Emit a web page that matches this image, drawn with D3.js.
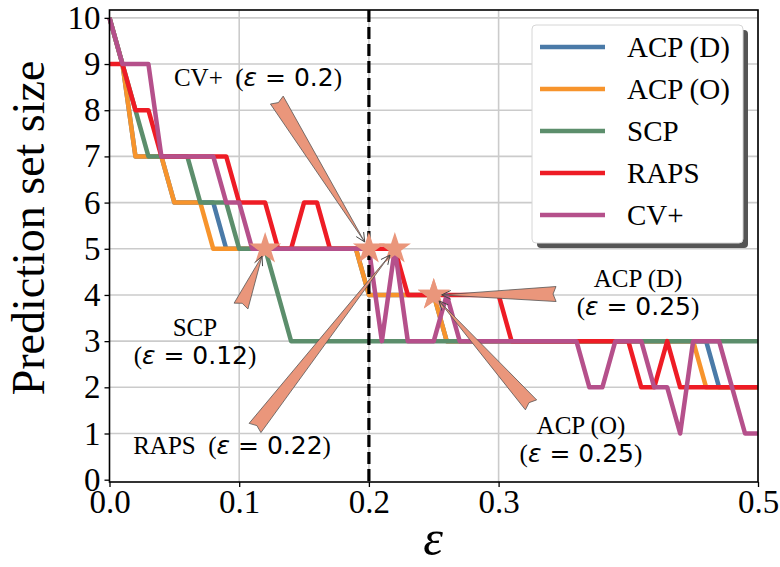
<!DOCTYPE html>
<html>
<head>
<meta charset="utf-8">
<script src="https://cdn.jsdelivr.net/npm/d3@7"></script>
<style>
body { margin: 0; background: #fff; }
text { font-family: "Liberation Serif", "Times New Roman", serif; fill: #000; }
</style>
</head>
<body>
<script>
var w = 780;
var h = 567;

// data (eps step 0.01)
var eps = [0.00, 0.01, 0.02, 0.03, 0.04, 0.05, 0.06, 0.07, 0.08, 0.09,
    0.10, 0.11, 0.12, 0.13, 0.14, 0.15, 0.16, 0.17, 0.18, 0.19,
    0.20, 0.21, 0.22, 0.23, 0.24, 0.25, 0.26, 0.27, 0.28, 0.29,
    0.30, 0.31, 0.32, 0.33, 0.34, 0.35, 0.36, 0.37, 0.38, 0.39,
    0.40, 0.41, 0.42, 0.43, 0.44, 0.45, 0.46, 0.47, 0.48, 0.49, 0.50];
var acpD = [10, 9, 7, 7, 7, 6, 6, 6, 6, 5,
    5, 5, 5, 5, 5, 5, 5, 5, 5, 5,
    4, 4, 4, 4, 4, 4, 3, 3, 3, 3,
    3, 3, 3, 3, 3, 3, 3, 3, 3, 3,
    3, 3, 3, 3, 3, 3, 3, 2, 2, 2, 2];
var acpO = [10, 9, 7, 7, 7, 6, 6, 6, 5, 5,
    5, 5, 5, 5, 5, 5, 5, 5, 5, 5,
    4, 4, 4, 4, 4, 4, 3, 3, 3, 3,
    3, 3, 3, 3, 3, 3, 3, 3, 3, 3,
    3, 3, 3, 3, 3, 3, 2, 2, 2, 2, 2];
var scp = [10, 9, 8, 7, 7, 7, 7, 6, 6, 6,
    5, 5, 5, 4, 3, 3, 3, 3, 3, 3,
    3, 3, 3, 3, 3, 3, 3, 3, 3, 3,
    3, 3, 3, 3, 3, 3, 3, 3, 3, 3,
    3, 3, 3, 3, 3, 3, 3, 3, 3, 3, 3];
var raps = [9, 9, 8, 8, 7, 7, 7, 7, 7, 7,
    6, 6, 6, 5, 5, 6, 6, 5, 5, 5,
    5, 5, 5, 4, 4, 4, 4, 4, 4, 4,
    4, 3, 3, 3, 3, 3, 3, 3, 3, 3,
    3, 2, 2, 3, 2, 2, 2, 2, 2, 2, 2];
var cvPlus = [10, 9, 9, 9, 7, 7, 7, 7, 7, 6,
    6, 5, 5, 5, 5, 5, 5, 5, 5, 5,
    5, 3, 5, 3, 3, 3, 4, 3, 3, 3,
    3, 3, 3, 3, 3, 3, 3, 2, 2, 3,
    3, 3, 2, 2, 1, 3, 3, 3, 2, 1, 1];

var seriesNames = ["ACP (D)", "ACP (O)", "SCP", "RAPS", "CV+"];
var seriesValues = [acpD, acpO, scp, raps, cvPlus];
var seriesColors = ["#4a7aa8", "#f7942c", "#5c8e6c", "#ee1c25", "#b5508b"];

var xTicks = [0, 0.1, 0.2, 0.3, 0.5];
var yTicks = [0, 1, 2, 3, 4, 5, 6, 7, 8, 9, 10];
var epsLine = 0.2;

// highlighted points + annotation text/tail positions (data units)
var noteTargets = [[0.2, 5], [0.12, 5], [0.22, 5], [0.25, 4], [0.25, 4]];
var noteTails = [[0.129, 8.22], [0.1014, 3.76], [0.1122, 1.12], [0.3443, 4.02], [0.325, 1.62]];
var noteText = [
    [["CV+  ", "0.2"]],
    [["SCP", null], ["", "0.12"]],
    [["RAPS  ", "0.22"]],
    [["ACP (D)", null], ["", "0.25"]],
    [["ACP (O)", null], ["", "0.25"]]
];
var notePos = [[0.1145, 8.72], [0.0659, 3.31], [0.0945, 0.75], [0.4075, 4.37], [0.3635, 1.18]];

var pLeft = 109.5, pRight = 758, pTop = 10, pBottom = 482;

var svg = d3.select("body")
    .append("svg")
    .attr("width", w)
    .attr("height", h);

svg.append("rect").attr("width", w).attr("height", h).attr("fill", "#fff");

var x = d3.scaleLinear().domain([0, 0.5]).range([pLeft, pRight]);
var y = d3.scaleLinear().domain([-0.05, 10.17]).range([pBottom, pTop]);

// grid
var grid = svg.append("g").attr("stroke", "#cbcbcb").attr("stroke-width", 1.6);
grid.selectAll("line.gy")
    .data(yTicks.slice(1))
    .enter().append("line")
    .attr("x1", pLeft).attr("x2", pRight)
    .attr("y1", d => y(d)).attr("y2", d => y(d));
grid.selectAll("line.gx")
    .data(xTicks.slice(1))
    .enter().append("line")
    .attr("y1", pTop).attr("y2", pBottom)
    .attr("x1", d => x(d)).attr("x2", d => x(d));

// series lines
var line = d3.line()
    .x((d, i) => x(eps[i]))
    .y(d => y(d));

svg.append("g")
    .selectAll("path")
    .data(seriesValues)
    .enter().append("path")
    .attr("d", line)
    .attr("fill", "none")
    .attr("stroke", (d, i) => seriesColors[i])
    .attr("stroke-width", 4.5)
    .attr("stroke-linejoin", "round")
    .attr("stroke-linecap", "butt");

// dashed threshold
svg.append("line")
    .attr("x1", x(epsLine)).attr("x2", x(epsLine))
    .attr("y1", pTop).attr("y2", pBottom)
    .attr("stroke", "#000")
    .attr("stroke-width", 3.2)
    .attr("stroke-dasharray", "12,5");

// stars
svg.append("g")
    .selectAll("path")
    .data(noteTargets)
    .enter().append("path")
    .attr("d", d3.symbol().type(d3.symbolStar).size(320))
    .attr("transform", d => "translate(" + x(d[0]) + "," + y(d[1]) + ")")
    .attr("fill", "#ea967b");

// wedge arrows
var arrows = svg.append("g");
noteTargets.forEach(function (t, i) {
    var sx = x(t[0]), sy = y(t[1]);
    var tx = x(noteTails[i][0]), ty = y(noteTails[i][1]);
    var dx = sx - tx, dy = sy - ty;
    var len = Math.sqrt(dx * dx + dy * dy);
    var ux = dx / len, uy = dy / len;
    var nx = -uy, ny = ux;
    var hx = sx - ux * 8, hy = sy - uy * 8;
    var hw = 7.5;
    var pts = [
        [tx + nx * hw, ty + ny * hw],
        [hx, hy],
        [tx - nx * hw, ty - ny * hw],
        [tx + ux * 3, ty + uy * 3]
    ];
    arrows.append("path")
        .attr("d", "M" + pts.map(p => p.join(",")).join("L") + "Z")
        .attr("fill", "#ea967b")
        .attr("stroke", "#555")
        .attr("stroke-width", 0.8)
        .attr("stroke-linejoin", "miter");
    // small open head
    var a = 0.45, hl = 10;
    var p1 = [hx - hl * (ux * Math.cos(a) - uy * Math.sin(a)), hy - hl * (uy * Math.cos(a) + ux * Math.sin(a))];
    var p2 = [hx - hl * (ux * Math.cos(-a) - uy * Math.sin(-a)), hy - hl * (uy * Math.cos(-a) + ux * Math.sin(-a))];
    arrows.append("path")
        .attr("d", "M" + p1.join(",") + "L" + hx + "," + hy + "L" + p2.join(","))
        .attr("fill", "none")
        .attr("stroke", "#444")
        .attr("stroke-width", 1);
});

// annotation texts
var notes = svg.append("g").attr("font-size", 25);
noteText.forEach(function (lines, i) {
    lines.forEach(function (ln, j) {
        var t = notes.append("text")
            .attr("x", x(notePos[i][0]))
            .attr("y", y(notePos[i][1]) + j * 28)
            .attr("text-anchor", "middle")
            .attr("dominant-baseline", "central")
            .style("white-space", "pre");
        if (ln[0]) t.append("tspan").text(ln[0]);
        if (ln[1]) {
            t.append("tspan").text("(");
            t.append("tspan").attr("font-family", "DejaVu Sans").attr("font-style", "italic").text("\u03b5");
            t.append("tspan").attr("font-family", "DejaVu Sans").text(" = " + ln[1]);
            t.append("tspan").text(")");
        }
    });
});

// frame
svg.append("rect")
    .attr("x", pLeft).attr("y", pTop)
    .attr("width", pRight - pLeft).attr("height", pBottom - pTop)
    .attr("fill", "none")
    .attr("stroke", "#000")
    .attr("stroke-width", 1.6);

// axes
var xAxis = svg.append("g")
    .attr("transform", "translate(0," + pBottom + ")")
    .call(d3.axisBottom(x).tickValues(xTicks).tickFormat(d3.format(".1f")).tickSize(5).tickPadding(3));
var yAxis = svg.append("g")
    .attr("transform", "translate(" + pLeft + ",0)")
    .call(d3.axisLeft(y).tickValues(yTicks).tickFormat(d3.format("d")).tickSize(5).tickPadding(4));
[xAxis, yAxis].forEach(function (g) {
    g.select(".domain").remove();
    g.selectAll("line").attr("stroke", "#000").attr("stroke-width", 1.3);
    g.selectAll("text")
        .attr("font-family", "Liberation Serif")
        .attr("font-size", 33)
        .attr("fill", "#000");
});

// axis labels
svg.append("text")
    .attr("transform", "translate(28,228) rotate(-90)")
    .attr("text-anchor", "middle")
    .attr("dominant-baseline", "central")
    .attr("font-size", 46)
    .text("Prediction set size");
svg.append("text")
    .attr("x", 433).attr("y", 538)
    .attr("text-anchor", "middle")
    .attr("dominant-baseline", "central")
    .attr("font-family", "DejaVu Sans")
    .attr("font-style", "italic")
    .attr("font-size", 50)
    .text("\u03b5");

// legend
var lg = svg.append("g").attr("transform", "translate(532,25)");
lg.append("rect")
    .attr("x", 5).attr("y", 5)
    .attr("width", 211).attr("height", 218)
    .attr("rx", 4)
    .attr("fill", "#555");
lg.append("rect")
    .attr("width", 211).attr("height", 218)
    .attr("rx", 4)
    .attr("fill", "#fff")
    .attr("stroke", "#d6d6d6")
    .attr("stroke-width", 1);
var items = lg.selectAll("g.item")
    .data(seriesNames)
    .enter().append("g")
    .attr("transform", (d, i) => "translate(0," + (22 + i * 42) + ")");
items.append("line")
    .attr("x1", 8).attr("x2", 73)
    .attr("stroke", (d, i) => seriesColors[i])
    .attr("stroke-width", 4.5);
items.append("text")
    .attr("x", 95)
    .attr("dominant-baseline", "central")
    .attr("font-size", 29)
    .text(d => d);
</script>
</body>
</html>
